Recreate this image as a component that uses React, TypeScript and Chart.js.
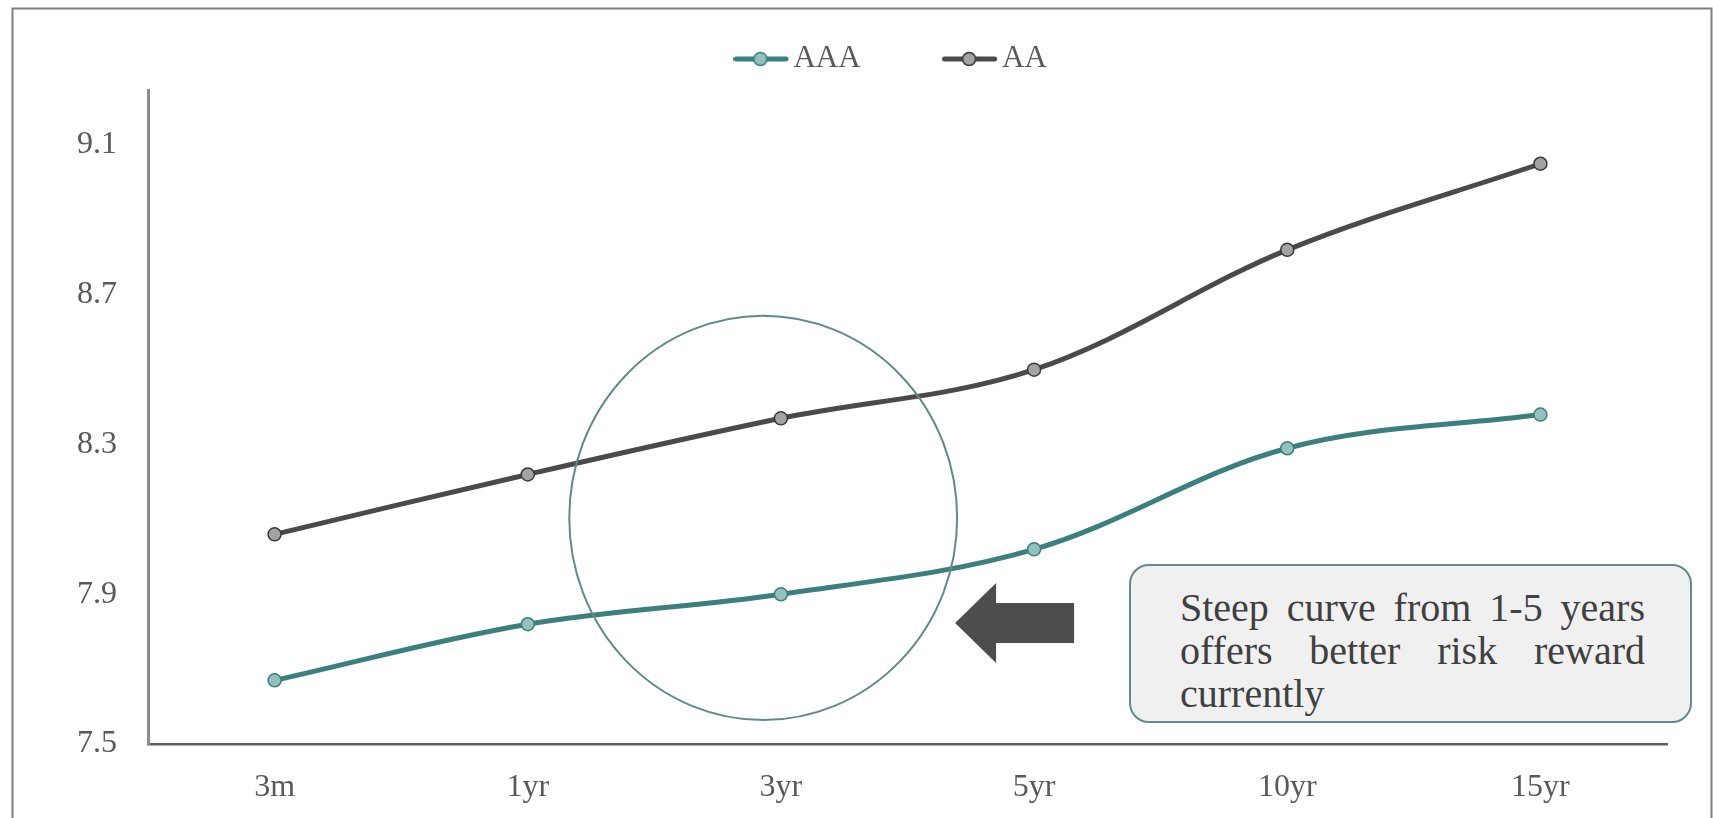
import React, { useEffect, useRef } from "react";
import { Chart, registerables } from "chart.js";

Chart.register(...registerables);

// ---- data ----
const categories = ["3m", "1yr", "3yr", "5yr", "10yr", "15yr"];
const seriesNames = ["AAA", "AA"];
const aaaValues = [7.67, 7.82, 7.9, 8.02, 8.29, 8.38];
const aaValues = [8.06, 8.22, 8.37, 8.5, 8.82, 9.05];
const yTickValues = [7.5, 7.9, 8.3, 8.7, 9.1];
const yMin = 7.5;
const yMax = 9.247;
const calloutText = "Steep curve from 1-5 years offers better risk reward currently";
// annotation anchors in data units (category index, value)
const highlightCircle = { category: 1.93, value: 8.104, rxCategories: 0.766, ryValue: 0.54 };
const arrowTip = { category: 2.688, value: 7.823 };

const FONT = "'Liberation Serif', 'Times New Roman', serif";
const TEAL = "#3b7f7e";
const TEAL_FILL = "#93c1bc";
const DARK = "#4a4a4a";
const DARK_FILL = "#a3a3a3";

function makeLegendImage(line: string, fill: string, border: string) {
  const c = document.createElement("canvas");
  c.width = 59;
  c.height = 18;
  const ctx = c.getContext("2d")!;
  ctx.strokeStyle = line;
  ctx.lineWidth = 5;
  ctx.lineCap = "round";
  ctx.beginPath();
  ctx.moveTo(2.5, 9);
  ctx.lineTo(52.5, 9);
  ctx.stroke();
  ctx.beginPath();
  ctx.arc(27, 9, 6.5, 0, Math.PI * 2);
  ctx.fillStyle = fill;
  ctx.fill();
  ctx.lineWidth = 1.5;
  ctx.strokeStyle = border;
  ctx.stroke();
  return c;
}

const decorPlugin = {
  id: "decor",
  beforeInit(chart: any) {
    const legend = chart.legend;
    if (legend) {
      const origFit = legend.fit;
      legend.fit = function () {
        origFit.call(this);
        this.height = 90;
      };
    }
  },
  afterLayout(chart: any) {
    const legend = chart.legend;
    if (legend) {
      // shift the legend row so that its items sit where the original places them
      legend.left = 127.8;
      legend.top = -52.5;
    }
  },
  beforeDraw(chart: any) {
    const ctx = chart.ctx;
    ctx.save();
    ctx.strokeStyle = "#7f7f7f";
    ctx.lineWidth = 2;
    ctx.strokeRect(12.5, 8.5, 1699, 900);
    ctx.restore();
  },
  afterDatasetsDraw(chart: any) {
    const { x, y } = chart.scales;
    const ctx = chart.ctx;
    const cx = x.getPixelForValue(highlightCircle.category);
    const cy = y.getPixelForValue(highlightCircle.value);
    const rx = Math.abs(x.getPixelForValue(highlightCircle.category + highlightCircle.rxCategories) - cx);
    const ry = Math.abs(y.getPixelForValue(highlightCircle.value + highlightCircle.ryValue) - cy);
    ctx.save();
    ctx.beginPath();
    ctx.ellipse(cx, cy, rx, ry, 0, 0, Math.PI * 2);
    ctx.strokeStyle = "#5f8b89";
    ctx.lineWidth = 2;
    ctx.stroke();

    const tx = x.getPixelForValue(arrowTip.category);
    const ty = y.getPixelForValue(arrowTip.value);
    ctx.beginPath();
    ctx.moveTo(tx, ty);
    ctx.lineTo(tx + 41, ty - 40);
    ctx.lineTo(tx + 41, ty - 20);
    ctx.lineTo(tx + 119, ty - 20);
    ctx.lineTo(tx + 119, ty + 20);
    ctx.lineTo(tx + 41, ty + 20);
    ctx.lineTo(tx + 41, ty + 40);
    ctx.closePath();
    ctx.fillStyle = "#4d4d4d";
    ctx.fill();
    ctx.restore();
  },
};

export default function App() {
  const canvasRef = useRef<HTMLCanvasElement | null>(null);

  useEffect(() => {
    if (!canvasRef.current) return;
    const legendImages = [
      makeLegendImage(TEAL, TEAL_FILL, TEAL),
      makeLegendImage(DARK, DARK_FILL, "#3a3a3a"),
    ];
    const chart = new Chart(canvasRef.current, {
      type: "line",
      data: {
        labels: categories,
        datasets: [
          {
            label: seriesNames[0],
            data: aaaValues,
            borderColor: TEAL,
            backgroundColor: TEAL_FILL,
            borderWidth: 5,
            pointRadius: 6.5,
            pointBorderWidth: 1.5,
            pointBackgroundColor: TEAL_FILL,
            pointBorderColor: TEAL,
            tension: 0.35,
          },
          {
            label: seriesNames[1],
            data: aaValues,
            borderColor: DARK,
            backgroundColor: DARK_FILL,
            borderWidth: 5,
            pointRadius: 6.5,
            pointBorderWidth: 1.5,
            pointBackgroundColor: DARK_FILL,
            pointBorderColor: "#3a3a3a",
            tension: 0.35,
          },
        ],
      },
      options: {
        animation: false,
        responsive: true,
        maintainAspectRatio: false,
        layout: { padding: { top: 0, left: 0, right: 46, bottom: 0 } },
        plugins: {
          tooltip: { enabled: false },
          legend: {
            display: true,
            position: "top",
            align: "center",
            labels: {
              usePointStyle: true,
              pointStyleWidth: 30,
              padding: 96,
              color: "#595959",
              font: { family: FONT, size: 31 },
              generateLabels: (c: any) =>
                Chart.defaults.plugins.legend.labels
                  .generateLabels(c)
                  .map((item: any, i: number) => ({ ...item, pointStyle: legendImages[i] })),
            },
          },
        },
        scales: {
          x: {
            type: "category",
            offset: true,
            grid: { display: false, drawTicks: false },
            border: { display: true, color: "#5f5f5f", width: 2.5 },
            ticks: { color: "#595959", font: { family: FONT, size: 32 }, padding: 24, maxRotation: 0 },
            afterFit: (s: any) => {
              s.height = 74;
            },
          },
          y: {
            type: "linear",
            min: yMin,
            max: yMax,
            grid: { display: false, drawTicks: false },
            border: { display: true, color: "#8c8c8c", width: 3 },
            ticks: {
              color: "#595959",
              font: { family: FONT, size: 32 },
              padding: 31,
              stepSize: 0.4,
              autoSkip: false,
              callback: (v: any) => Number(v).toFixed(1),
            },
            afterBuildTicks: (s: any) => {
              s.ticks = yTickValues.map((v) => ({ value: v }));
            },
            afterFit: (s: any) => {
              s.width = 148;
            },
          },
        },
      },
      plugins: [decorPlugin],
    });
    return () => chart.destroy();
  }, []);

  return (
    <div style={{ position: "absolute", left: 0, top: 0, width: 1713, height: 818, background: "#ffffff" }}>
      <canvas ref={canvasRef} />
      <div
        style={{
          position: "absolute",
          left: 1129,
          top: 564,
          width: 563,
          height: 159,
          boxSizing: "border-box",
          border: "2.5px solid #5f8b89",
          borderRadius: 20,
          background: "#f0f0f0",
          padding: "20px 45px 0 49px",
          fontFamily: FONT,
          fontSize: 40,
          lineHeight: "43px",
          color: "#404040",
          textAlign: "justify",
        }}
      >
        {calloutText}
      </div>
    </div>
  );
}
